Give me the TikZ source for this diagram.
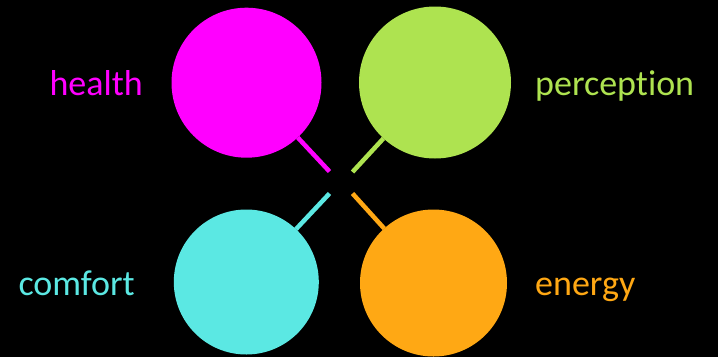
\documentclass[tikz,border=0pt]{standalone}
\usepackage{fontspec}
\setmainfont{Carlito}[Ligatures=NoCommon]
\definecolor{cmag}{RGB}{255,0,255}
\definecolor{cgreen}{RGB}{174,227,80}
\definecolor{ccyan}{RGB}{91,232,227}
\definecolor{corange}{RGB}{255,168,20}
\begin{document}
\begin{tikzpicture}[x=1pt,y=-1pt,
  ball/.style={circle,inner sep=0pt,outer sep=0pt,fill=#1,draw=none},
  stick/.style={draw=#1,line width=4.5pt,line cap=butt},
  lbl/.style={anchor=base west,inner sep=0pt,text=#1,font=\fontsize{36}{43}\selectfont}]
\fill[black] (0,0) rectangle (718,357);
\useasboundingbox (0,0) rectangle (718,357);
\coordinate (em) at (329.5,171.5);
\coordinate (eg) at (352.5,172);
\coordinate (ec) at (329.5,193.5);
\coordinate (eo) at (352.5,193.5);
\node[ball=cmag,minimum size=150pt] (mag) at (246.5,82.7) {};
\node[ball=cgreen,minimum size=152pt] (grn) at (435,82.5) {};
\node[ball=ccyan,minimum size=145pt] (cyn) at (246.3,282) {};
\node[ball=corange,minimum size=147pt] (org) at (433.5,283) {};
\draw[stick=cmag] (mag) -- (em);
\draw[stick=cgreen] (grn) -- (eg);
\draw[stick=ccyan] (cyn) -- (ec);
\draw[stick=corange] (org) -- (eo);
\node[lbl=cmag] (t1) at (49.3,95.7) {health};
\node[lbl=cgreen] (t2) at (535,95.7) {perception};
\node[lbl=ccyan] (t3) at (18.3,295.7) {comfort};
\node[lbl=corange] (t4) at (535,295.7) {energy};
\end{tikzpicture}
\end{document}
